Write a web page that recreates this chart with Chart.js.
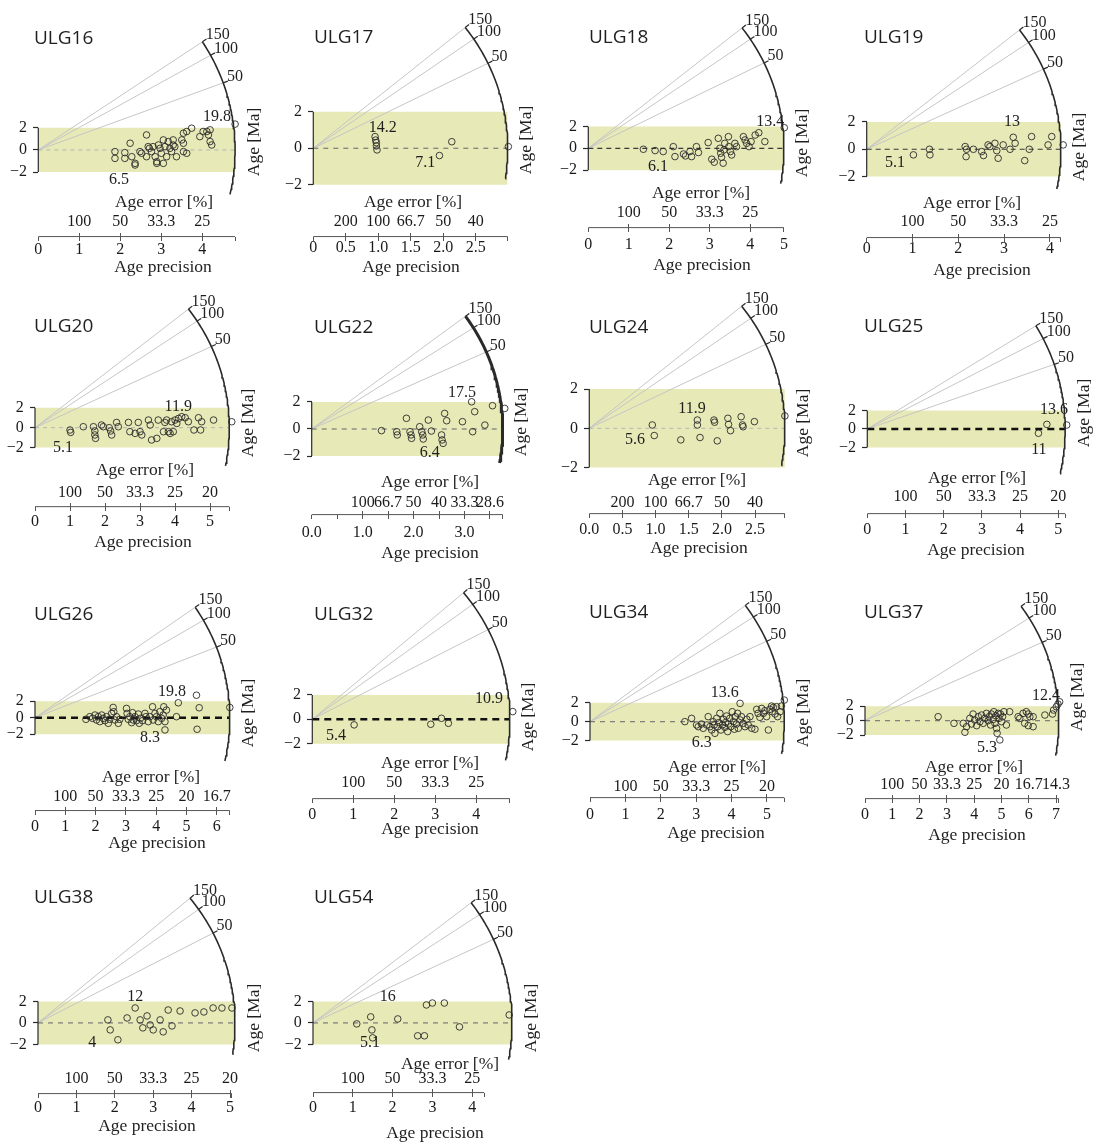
<!DOCTYPE html>
<html>
<head>
<meta charset="utf-8">
<script src="https://cdn.jsdelivr.net/npm/chart.js@4.4.0/dist/chart.umd.min.js"></script>
<style>
  body { margin: 0; background: #fff; }
  #wrap { position: relative; width: 1097px; height: 1147px; }
  #wrap canvas { position: absolute; }
</style>
</head>
<body>
<div id="wrap"></div>
<script>
// ---- data ----
const samples = ['ULG16', 'ULG17', 'ULG18', 'ULG19', 'ULG20', 'ULG22', 'ULG24', 'ULG25',
  'ULG26', 'ULG32', 'ULG34', 'ULG37', 'ULG38', 'ULG54'];

// central age (Ma) used to fan the radial lines
const centralAges = [13, 8.8, 8.3, 10.9, 9.9, 9.5, 10, 12, 12, 9, 9.1, 9.4, 8, 9];

// precision reached by the arc, and end of the drawn precision axis
const precisionMax = [4.8, 2.99, 4.83, 4.24, 5.55, 3.75, 2.95, 5.18, 6.43, 4.82, 5.49, 7.1, 5.13, 5.0];
const axisEnd = [4.8, 2.99, 4.83, 4.24, 5.55, 3.75, 2.95, 5.18, 6.43, 4.82, 5.49, 7.1, 5.05, 4.3];

const precisionTicks = [
  [0, 1, 2, 3, 4, 4.8],
  [0, 0.5, 1, 1.5, 2, 2.5, 2.99],
  [0, 1, 2, 3, 4, 4.83],
  [0, 1, 2, 3, 4, 4.24],
  [0, 1, 2, 3, 4, 5, 5.55],
  [0, 0.5, 1, 1.5, 2, 2.5, 3, 3.5, 3.75],
  [0, 0.5, 1, 1.5, 2, 2.5, 2.95],
  [0, 1, 2, 3, 4, 5, 5.18],
  [0, 1, 2, 3, 4, 5, 6, 6.43],
  [0, 1, 2, 3, 4, 4.82],
  [0, 1, 2, 3, 4, 5, 5.49],
  [0, 1, 2, 3, 4, 5, 6, 7, 7.1],
  [0, 1, 2, 3, 4, 5, 5.05],
  [0, 1, 2, 3, 4, 4.3]
];
const precisionLabels = [
  ['0', '1', '2', '3', '4', ''],
  ['0', '0.5', '1.0', '1.5', '2.0', '2.5', ''],
  ['0', '1', '2', '3', '4', '5'],
  ['0', '1', '2', '3', '4', ''],
  ['0', '1', '2', '3', '4', '5', ''],
  ['0.0', '', '1.0', '', '2.0', '', '3.0', '', ''],
  ['0.0', '0.5', '1.0', '1.5', '2.0', '2.5', ''],
  ['0', '1', '2', '3', '4', '5', ''],
  ['0', '1', '2', '3', '4', '5', '6', ''],
  ['0', '1', '2', '3', '4', ''],
  ['0', '1', '2', '3', '4', '5', ''],
  ['0', '1', '2', '3', '4', '5', '6', '7', ''],
  ['0', '1', '2', '3', '4', '5', ''],
  ['0', '1', '2', '3', '4', '']
];

const errorTicks = [
  [1, 2, 3, 4], [0.5, 1, 1.5, 2, 2.5], [1, 2, 3, 4], [1, 2, 3, 4], [1, 2, 3, 4, 5],
  [1, 1.5, 2, 2.5, 3, 3.5], [0.5, 1, 1.5, 2, 2.5], [1, 2, 3, 4, 5], [1, 2, 3, 4, 5, 6],
  [1, 2, 3, 4], [1, 2, 3, 4, 5], [1, 2, 3, 4, 5, 6, 7], [1, 2, 3, 4, 5], [1, 2, 3, 4]
];
const errorLabels = [
  ['100', '50', '33.3', '25'],
  ['200', '100', '66.7', '50', '40'],
  ['100', '50', '33.3', '25'],
  ['100', '50', '33.3', '25'],
  ['100', '50', '33.3', '25', '20'],
  ['100', '66.7', '50', '40', '33.3', '28.6'],
  ['200', '100', '66.7', '50', '40'],
  ['100', '50', '33.3', '25', '20'],
  ['100', '50', '33.3', '25', '20', '16.7'],
  ['100', '50', '33.3', '25'],
  ['100', '50', '33.3', '25', '20'],
  ['100', '50', '33.3', '25', '20', '16.7', '14.3'],
  ['100', '50', '33.3', '25', '20'],
  ['100', '50', '33.3', '25']
];
// panels whose "Age error [%]" caption is printed
const showErrorTitle = [true, true, true, true, true, true, true, true, true, true, true, true, false, true];

// ages (Ma) labelled on the arc, and the ones that get a radial line
const arcLabels = [50, 100, 150];
const radialAges = [
  [50, 100, 150], [50, 100, 150], [50, 100, 150], [50, 100, 150], [50, 100, 150],
  [50, 100, 150], [50, 100, 150], [50, 100, 150], [50, 100, 150], [50, 100, 150],
  [50, 100, 150], [50, 100], [50, 100, 150], [50, 100, 150]
];
// youngest / oldest age covered by the arc
const arcSpan = [[5.5, 150], [5.0, 150], [4.2, 150], [5.4, 150], [4.9, 150], [4.8, 150], [5.2, 150],
  [4.6, 150], [5.2, 150], [4.4, 150], [4.85, 150], [4.7, 150], [4.5, 150], [4.5, 150]];

// max / min age labels: [text, precision, z]
const maxAgeLabels = [['19.8', 4.36, 2.97], ['14.2', 1.07, 1.11], ['13.4', 4.49, 2.39], ['13', 3.17, 1.99],
  ['11.9', 4.09, 2.07], ['17.5', 2.95, 2.65], ['11.9', 1.55, 0.98], ['13.6', 4.89, 2.04],
  ['19.8', 4.52, 3.1], ['10.9', 4.31, 1.66], ['13.6', 3.81, 3.02], ['12.4', 6.63, 3.41],
  ['12', 2.53, 2.4], ['16', 1.88, 2.4]];
const minAgeLabels = [['6.5', 1.97, -2.7], ['7.1', 1.72, -0.8], ['6.1', 1.72, -1.7], ['5.1', 0.62, -1.0],
  ['5.1', 0.8, -2.03], ['6.4', 2.32, -1.76], ['5.6', 0.69, -0.59], ['11', 4.49, -2.26],
  ['8.3', 3.8, -2.45], ['5.4', 0.58, -1.36], ['6.3', 3.16, -2.24], ['5.3', 4.47, -3.77],
  ['4', 1.41, -1.85], ['5.1', 1.43, -1.85]];

// grains: [age precision, standardised estimate]
const ulg16 = [[1.87, -0.15], [1.87, -0.76], [2.11, -0.24], [2.11, -0.76], [2.24, 0.61], [2.28, -0.61], [2.36, -1.21],
  [2.36, -1.36], [2.48, -0.15], [2.52, -0.3], [2.64, -0.61], [2.64, 1.36], [2.68, 0.3], [2.71, 0.15], [2.76, -0.15],
  [2.8, 0.3], [2.85, -0.61], [2.89, -1.06], [2.89, -1.21], [2.93, 0.45], [2.97, 0.15], [3.0, -0.3], [3.05, 0.91],
  [3.09, 0.3], [3.05, -1.21], [3.13, -0.61], [3.17, 0.76], [3.21, 0.15], [3.25, -0.15], [3.29, 0.45], [3.29, 0.91],
  [3.33, 0.3], [3.37, -0.61], [3.5, 0.91], [3.54, 0.61], [3.54, -0.15], [3.62, -0.3], [3.54, 1.52], [3.62, 1.67],
  [3.74, 1.97], [3.94, 1.21], [4.02, 1.67], [4.11, 1.67], [4.15, 1.36], [4.19, 1.82], [4.19, 0.76], [4.23, 0.45],
  [4.8, 2.34]];
const ulg17 = [[0.95, 0.64], [0.96, 0.45], [0.97, 0.31], [0.97, 0.13], [0.98, -0.09], [1.94, -0.4], [2.13, 0.36], [3.0, 0.09]];
const ulg18 = [[1.36, -0.09], [1.65, -0.21], [1.85, -0.3], [2.1, 0.15], [2.14, -0.76], [2.35, -0.52], [2.4, -0.7],
  [2.55, -0.76], [2.51, -0.3], [2.67, 0.15], [2.72, -0.39], [2.96, 0.52], [3.05, -1.0], [3.11, -1.27], [3.21, 0.91],
  [3.25, 0], [3.27, -0.45], [3.29, -0.82], [3.33, -1.36], [3.35, -0.15], [3.37, 0.45], [3.46, 1.06], [3.47, 0.15],
  [3.51, -0.3], [3.54, -0.61], [3.62, 0.45], [3.66, 0.15], [3.83, 1.06], [3.87, 0.76], [3.91, 0.45], [3.97, 0.15],
  [4.02, 0.61], [4.12, 1.21], [4.21, 1.42], [4.36, 0.61], [4.84, 1.88]];
const ulg19 = [[1.02, -0.41], [1.37, 0], [1.38, -0.41], [2.15, 0.2], [2.17, -0.54], [2.18, 0], [2.33, 0], [2.51, -0.17],
  [2.55, -0.46], [2.65, 0.32], [2.69, 0.2], [2.8, 0.44], [2.84, -0.1], [2.87, -0.66], [2.98, 0.32], [3.13, 0],
  [3.2, 0.88], [3.24, 0.44], [3.45, -0.83], [3.55, 0], [3.6, 0.93], [3.96, 0.32], [4.04, 0.93], [4.29, 0.32]];
const ulg20 = [[1.0, -0.23], [1.02, -0.47], [1.38, 0.1], [1.67, 0.1], [1.71, -0.33], [1.71, -0.73], [1.73, -1.07],
  [1.9, 0.27], [1.95, 0.1], [2.12, 0], [2.16, -0.33], [2.19, -0.73], [2.33, 0.53], [2.38, 0.1], [2.67, 0.53],
  [2.71, -0.4], [2.86, -0.57], [2.95, 0.53], [3.0, -0.4], [3.05, -0.73], [3.24, 0.77], [3.29, 0.27], [3.33, -1.23],
  [3.48, -1.07], [3.52, 0.77], [3.67, -0.4], [3.71, 0.53], [3.76, 0.77], [3.81, -0.4], [3.86, -0.57], [3.9, 0.6],
  [3.95, -0.4], [4.0, 0.77], [4.05, 0.43], [4.1, 0.93], [4.19, 1.1], [4.29, 1.0], [4.38, 0.6], [4.54, -0.23],
  [4.67, 1.0], [4.73, -0.23], [4.76, 0.6], [5.1, 0.77], [5.62, 0.6]];
const ulg22 = [[1.37, -0.12], [1.67, -0.2], [1.68, -0.44], [1.86, 0.79], [1.93, -0.2], [1.95, -0.44], [1.96, -0.69],
  [2.12, 0.17], [2.16, -0.2], [2.18, -0.44], [2.19, -0.74], [2.29, 0.66], [2.35, -0.15], [2.55, -0.44], [2.56, -0.81],
  [2.58, -1.06], [2.61, 1.15], [2.65, 0.61], [2.96, 0.54], [3.14, 2.01], [3.16, -0.2], [3.2, 1.28], [3.4, 0.29],
  [3.55, 1.72], [3.79, 1.52]];
const ulg24 = [[0.95, 0.17], [0.98, -0.37], [1.38, -0.59], [1.63, 0.42], [1.63, 0.17], [1.67, -0.47], [1.88, 0.42],
  [1.89, 0.31], [1.93, -0.64], [2.09, 0.51], [2.1, 0.2], [2.13, -0.12], [2.29, 0.59], [2.31, 0.17], [2.32, 0.08],
  [2.49, 0.34], [2.95, 0.63]];
const ulg25 = [[4.48, -0.46], [4.7, 0.5], [5.22, 0.43]];
const ulg26 = [[1.68, -0.2], [1.81, 0.12], [1.9, -0.08], [1.98, 0.32], [2.03, -0.28], [2.09, 0.12], [2.14, -0.48],
  [2.2, 0.32], [2.25, -0.08], [2.31, -0.36], [2.36, 0.12], [2.42, -0.68], [2.47, -0.2], [2.53, 0.52], [2.58, 1.24],
  [2.6, 0.72], [2.64, -0.28], [2.69, 0.12], [2.75, -0.68], [2.8, -0.2], [3.02, 1.12], [3.04, 0.52], [3.08, -0.2],
  [3.13, 0.12], [3.19, -0.6], [3.22, 0.6], [3.24, -0.28], [3.3, 0.12], [3.35, -0.36], [3.41, 0.44], [3.44, -0.68],
  [3.48, -0.08], [3.55, -0.36], [3.63, 0.52], [3.66, 0.12], [3.74, -0.48], [3.79, 0.12], [3.88, 1.32], [3.9, -0.28],
  [3.96, 0.52], [4.01, 0.12], [4.07, -0.48], [4.12, 0.72], [4.18, -0.08], [4.23, 0.32], [4.25, 1.32], [4.29, -0.48],
  [4.29, -1.48], [4.34, 0.92], [4.73, 1.8], [4.67, 0.12], [5.33, 2.72], [5.42, 1.2], [5.35, -1.4], [6.43, 1.24]];
const ulg32 = [[1.02, -0.46], [2.89, -0.41], [3.15, 0.08], [3.32, -0.33], [4.89, 0.63]];
const ulg34 = [[2.68, 0], [2.87, 0.35], [3.01, -0.35], [3.06, -0.53], [3.15, -0.25], [3.2, -0.7], [3.3, -0.35],
  [3.34, 0.53], [3.39, -0.53], [3.44, -0.88], [3.48, 0], [3.51, -0.35], [3.53, -1.23], [3.58, 0.35], [3.61, -0.53],
  [3.64, -0.1], [3.67, 0.88], [3.7, -0.88], [3.74, -0.35], [3.77, 0.25], [3.81, -0.6], [3.83, -0.1], [3.86, 0.6],
  [3.89, -1.05], [3.91, -0.25], [3.95, 0.35], [3.98, -0.53], [4.02, 1.05], [4.05, 0], [4.08, -0.8], [4.1, 0.53],
  [4.14, -0.25], [4.17, 0.88], [4.19, -0.7], [4.24, 1.93], [4.24, 0.18], [4.28, 0.53], [4.33, -0.18], [4.38, -0.53],
  [4.43, 0.25], [4.47, -0.35], [4.52, 0.53], [4.57, -0.7], [4.66, -0.8], [4.71, 1.3], [4.75, 0.88], [4.8, 0.46],
  [4.85, 1.4], [4.9, 0.88], [4.94, 1.16], [4.99, 0.53], [5.04, -0.88], [5.08, 1.3], [5.13, 1.65], [5.15, 1.05],
  [5.18, 1.51], [5.23, 0.81], [5.27, 1.58], [5.3, 0.53], [5.37, 1.05], [5.41, 1.65], [5.49, 2.28], [5.51, 1.75],
  [5.51, 1.3], [5.53, 0.81]];
const ulg37 = [[2.68, 0.55], [3.26, -0.37], [3.6, -0.37], [3.66, -1.61], [3.72, -0.83], [3.84, 0.32], [3.9, -0.46],
  [3.96, 0.92], [4.02, 0.09], [4.09, -0.69], [4.15, 0.55], [4.21, -0.14], [4.27, 0.78], [4.33, -0.37], [4.39, 0.32],
  [4.45, 1.01], [4.51, 0], [4.55, 0.55], [4.6, -0.6], [4.63, 0.92], [4.7, 0.18], [4.72, 1.24], [4.76, -0.37],
  [4.79, 0.69], [4.82, -1.06], [4.84, -1.75], [4.88, 1.01], [4.91, 0.32], [4.94, -2.67], [4.96, 0.92], [5.0, -0.14],
  [5.04, 0.55], [5.09, 1.24], [5.18, -0.6], [5.3, 1.24], [5.61, 0.55], [5.67, 0.32], [5.79, 1.01], [5.91, 1.24],
  [5.98, 0.92], [6.04, 0.55], [6.16, 0.55], [5.85, -0.37], [5.98, -0.69], [6.16, -0.83], [6.59, 0.78], [6.87, 0.92],
  [6.91, 1.47], [7.01, 1.93], [7.07, 2.3], [7.13, 2.62]];
const ulg38 = [[1.82, 0.28], [1.88, -0.65], [2.08, -1.57], [2.32, 0.46], [2.53, 1.39], [2.66, 0.28], [2.73, -0.46],
  [2.84, 0.65], [2.92, -0.19], [3.0, -0.65], [3.18, 0.28], [3.26, -0.83], [3.39, 1.2], [3.49, -0.28], [3.7, 1.11],
  [4.09, 0.93], [4.32, 1.02], [4.56, 1.39], [4.79, 1.39], [5.05, 1.39]];
const ulg54 = [[1.1, -0.09], [1.45, 0.56], [1.48, -0.65], [1.5, -1.39], [2.13, 0.37], [2.63, -1.2], [2.8, -1.2],
  [2.85, 1.67], [3.0, 1.85], [3.3, 1.85], [3.68, -0.37], [4.93, 0.74]];
const grains = [ulg16, ulg17, ulg18, ulg19, ulg20, ulg22, ulg24, ulg25, ulg26, ulg32, ulg34, ulg37, ulg38, ulg54];

// ---- layout (pixels inside each panel) ----
const panelLeft = [0, 280, 555, 830];
const panelTop = [0, 285, 570, 860];
const origin = [[38.3, 150], [33.3, 148.3], [33.3, 148.3], [36.7, 149.3], [35, 142.7], [31.7, 144], [34.3, 143.3],
  [37.3, 144], [35, 147.7], [32.3, 149.3], [35, 151.7], [35, 150.7], [38, 163], [33, 163]];
const radius = [196.8, 194.4, 195.6, 194.2, 194.3, 191, 195.6, 197.9, 194.8, 197.6, 194.3, 193.8, 197, 199];
const pxPerZ = [11.1, 18.3, 11, 13.7, 10, 13.6, 19.7, 9.3, 8.3, 12.25, 9.5, 7.25, 10.8, 10.8];
// [error title, error labels, axis line, precision labels, precision title]
const axisRows = [[202, 222, 237, 250, 267], [202, 222, 237, 248, 267], [193, 213, 228, 245, 265],
  [203, 222, 238, 249, 270], [185, 208, 222, 237, 257], [197, 218, 230, 248, 268], [195, 218, 229, 245, 263],
  [193, 212, 229, 245, 265], [207, 227, 241, 257, 273], [193, 213, 229, 245, 259], [197, 217, 228, 245, 263],
  [197, 215, 229, 245, 265], [201, 219, 234, 248, 266], [204, 219, 233, 248, 273]];
const axisTitleX = [[164, 163], [133, 131], [146, 147], [142, 152], [145, 143], [150, 150], [142, 144],
  [147, 146], [151, 157], [150, 150], [162, 161], [144, 147], [140, 147], [170, 155]];
const titleY = [39, 38, 38, 38, 42, 43, 43, 42, 45, 45, 43, 43, 38, 38];
const ageTitleY = [142, 140, 143, 147, 138, 137, 138, 128, 143, 147, 143, 127, 158, 158];
const zeroStyle = ['light', 'gray', 'dark', 'dark', 'light', 'gray', 'light', 'bold', 'bold', 'bold',
  'gray', 'gray', 'gray', 'gray'];
const arcWidth = [1.6, 1.6, 1.6, 1.6, 1.6, 3, 1.6, 1.6, 1.6, 1.6, 1.6, 1.6, 1.6, 1.6];

const SERIF = '"Liberation Serif", "DejaVu Serif", serif';
const SANS = '"Open Sans", "Liberation Sans", sans-serif';
const BAND = '#e7e9b6';
const zeroLook = {
  light: { color: '#b4b4b4', width: 1, dash: [4, 4] },
  gray: { color: '#7a7a7a', width: 1.2, dash: [5, 5] },
  dark: { color: '#3a3a3a', width: 1.2, dash: [5, 4] },
  bold: { color: '#111', width: 2.4, dash: [7, 5] }
};

Chart.defaults.font.family = SERIF;
Chart.defaults.color = '#1a1a1a';

const wrap = document.getElementById('wrap');

function makePanel(i) {
  const col = i % 4, row = Math.floor(i / 4);
  const W = col === 3 ? 267 : 275, H = 287;
  const cv = document.createElement('canvas');
  cv.width = W; cv.height = H;
  cv.style.left = panelLeft[col] + 'px';
  cv.style.top = panelTop[row] + 'px';
  wrap.appendChild(cv);

  const [ox, oy] = origin[i];
  const R = radius[i], xMax = precisionMax[i];
  const pxX = R / xMax, pxY = pxPerZ[i];
  const rows = axisRows[i];
  const padT = 12, padB = 12;
  const yMax = (oy - padT) / pxY, yMin = -(H - padB - oy) / pxY;
  const toZ = p => (oy - p) / pxY;
  const angle = t => Math.atan(Math.log(t / centralAges[i]) * pxY / pxX);
  const arcPoint = (a, k) => ({ x: k * xMax * Math.cos(a), y: k * xMax * Math.sin(a) * pxX / pxY });

  const lineBase = { type: 'line', pointRadius: 0, pointHoverRadius: 0, clip: false, fill: false, tension: 0 };
  const ds = [];
  // +-2 band
  ds.push({ ...lineBase, data: [{ x: 0, y: 2 }, { x: xMax, y: 2 }], fill: { value: -2 },
    backgroundColor: BAND, borderWidth: 0, order: 20 });
  // radial lines
  radialAges[i].forEach(t => {
    ds.push({ ...lineBase, data: [{ x: 0, y: 0 }, arcPoint(angle(t), 1)], borderColor: '#c6c6c6',
      borderWidth: 1, order: 15 });
  });
  // dashed zero line
  const z = zeroLook[zeroStyle[i]];
  ds.push({ ...lineBase, data: [{ x: 0, y: 0 }, { x: xMax, y: 0 }], borderColor: z.color,
    borderWidth: z.width, borderDash: z.dash, order: 12 });
  // bracket of the z axis
  ds.push({ ...lineBase, data: [{ x: 0, y: -2 }, { x: 0, y: 2 }], borderColor: '#2a2a2a', borderWidth: 1.2, order: 11 });
  // precision axis line
  const zAxis = toZ(rows[2]);
  ds.push({ ...lineBase, data: [{ x: 0, y: zAxis }, { x: axisEnd[i], y: zAxis }], borderColor: '#555',
    borderWidth: 1, order: 11 });
  // age arc
  const a0 = angle(arcSpan[i][0]), a1 = angle(arcSpan[i][1]);
  const arc = [];
  for (let k = 0; k <= 60; k++) arc.push(arcPoint(a0 + (a1 - a0) * k / 60, 1));
  ds.push({ ...lineBase, data: arc, borderColor: '#2a2a2a', borderWidth: arcWidth[i], order: 10 });
  arcLabels.forEach(t => {
    const a = angle(t);
    ds.push({ ...lineBase, data: [arcPoint(a, 1), arcPoint(a, 1.025)], borderColor: '#2a2a2a', borderWidth: 1.2, order: 10 });
  });
  // grains
  ds.push({ type: 'scatter', data: grains[i].map(([x, y]) => ({ x, y })), clip: false,
    pointRadius: 3.3, pointHoverRadius: 3.3, borderColor: '#2b2b2b', borderWidth: 0.9,
    backgroundColor: 'rgba(0,0,0,0)', order: 1 });

  const tickFont = { family: SERIF, size: 16 };
  const texts = {
    id: 'texts' + i,
    afterDraw(chart) {
      const ctx = chart.ctx;
      const sx = chart.scales.x, sy = chart.scales.y;
      ctx.save();
      ctx.fillStyle = '#1f1f1f';
      ctx.textBaseline = 'middle';
      ctx.textAlign = 'left';
      ctx.font = '19px ' + SANS;
      ctx.fillText(samples[i], 34, titleY[i]);

      ctx.font = '17.5px ' + SERIF;
      ctx.textAlign = 'center';
      if (showErrorTitle[i]) ctx.fillText('Age error [%]', axisTitleX[i][0], rows[0]);
      ctx.fillText('Age precision', axisTitleX[i][1], rows[4]);

      ctx.font = '16px ' + SERIF;
      ctx.textAlign = 'left';
      arcLabels.forEach(t => {
        const p = arcPoint(angle(t), 1.02);
        ctx.fillText(String(t), sx.getPixelForValue(p.x), sy.getPixelForValue(p.y) - 5);
      });
      ctx.textAlign = 'center';
      [maxAgeLabels[i], minAgeLabels[i]].forEach(([s, x, y]) => {
        ctx.fillText(s, sx.getPixelForValue(x), sy.getPixelForValue(y));
      });

      ctx.font = '17.5px ' + SERIF;
      ctx.translate(ox + R + 19, ageTitleY[i]);
      ctx.rotate(-Math.PI / 2);
      ctx.fillText('Age [Ma]', 0, 0);
      ctx.restore();
    }
  };

  new Chart(cv, {
    type: 'scatter',
    data: { datasets: ds },
    options: {
      responsive: false,
      animation: false,
      devicePixelRatio: 1,
      events: [],
      layout: { padding: { left: ox, right: W - ox - R, top: padT, bottom: padB } },
      plugins: { legend: { display: false }, tooltip: { enabled: false } },
      scales: {
        x: {
          type: 'linear', min: 0, max: xMax, position: { y: zAxis },
          afterBuildTicks: s => { s.ticks = precisionTicks[i].map(v => ({ value: v })); },
          ticks: { autoSkip: false, maxRotation: 0, minRotation: 0, padding: rows[3] - rows[2] - 13.6,
            font: tickFont, color: '#1a1a1a', callback: (v, k) => precisionLabels[i][k] },
          grid: { drawOnChartArea: false, tickLength: 4, tickColor: '#555', tickWidth: 1 },
          border: { display: false }
        },
        xe: {
          type: 'linear', axis: 'x', min: 0, max: xMax, position: { y: toZ(rows[2] - 4) },
          afterBuildTicks: s => { s.ticks = errorTicks[i].map(v => ({ value: v })); },
          ticks: { autoSkip: false, maxRotation: 0, minRotation: 0, padding: rows[1] - rows[2] - 9.6,
            font: tickFont, color: '#1a1a1a', callback: (v, k) => errorLabels[i][k] },
          grid: { drawOnChartArea: false, tickLength: 4, tickColor: '#555', tickWidth: 1 },
          border: { display: false }
        },
        y: {
          type: 'linear', min: yMin, max: yMax, position: { x: 0 },
          afterBuildTicks: s => { s.ticks = [-2, 0, 2].map(v => ({ value: v })); },
          ticks: { font: tickFont, color: '#1a1a1a',
            // trailing spaces keep the labels clear of the tick marks
            callback: v => (v < 0 ? '\u2212' + Math.abs(v) : String(v)) + '\u00a0\u00a0\u2009' },
          grid: { drawOnChartArea: false, tickLength: 5, tickColor: '#2a2a2a', tickWidth: 1.2 },
          border: { display: false }
        }
      }
    },
    plugins: [texts]
  });
}

samples.forEach((s, i) => makePanel(i));
</script>
</body>
</html>
